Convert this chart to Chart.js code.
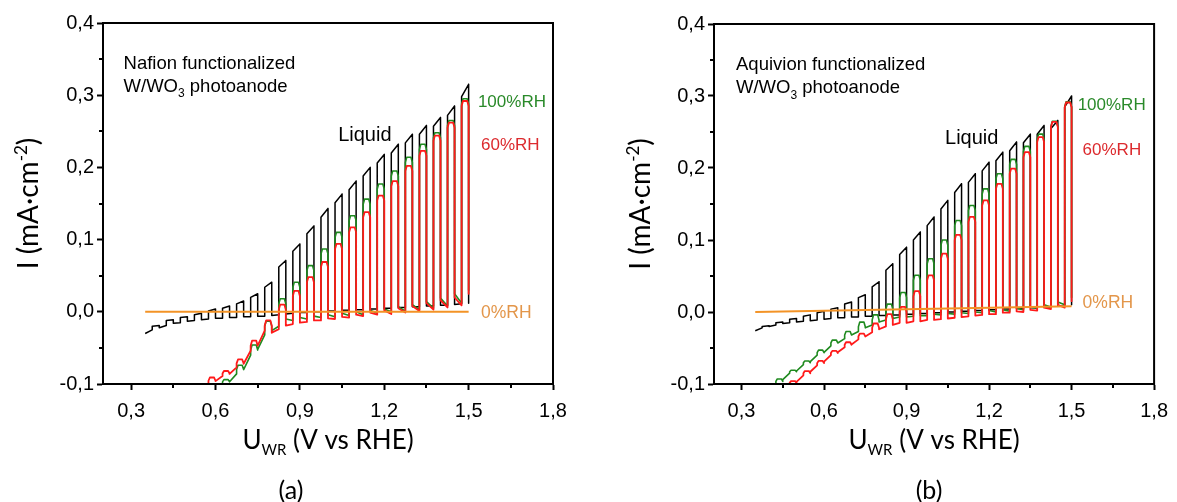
<!DOCTYPE html>
<html><head><meta charset="utf-8">
<script src="https://cdn.jsdelivr.net/npm/chart.js@4.4.1/dist/chart.umd.min.js"></script>
<style>
html,body{margin:0;padding:0;background:#fff;}
#wrap{position:relative;width:1177px;height:502px;overflow:hidden;background:#fff;}
canvas{position:absolute;top:0;}
#ca{left:0;} #cb{left:588px;}
</style></head><body>
<div id="wrap"><canvas id="ca" width="588" height="502"></canvas><canvas id="cb" width="589" height="502"></canvas></div>
<script>
// ---------- shared chopping grid (V vs RHE) ----------
const pulseOn  = [0.375,0.425,0.475,0.525,0.575,0.625,0.675,0.725,0.775,0.825,0.875,0.925,0.975,1.025,1.075,1.125,1.175,1.225,1.275,1.325,1.375,1.425,1.475];
const pulseOff = [0.400,0.450,0.500,0.550,0.600,0.650,0.700,0.750,0.800,0.850,0.900,0.950,1.000,1.050,1.100,1.150,1.200,1.250,1.300,1.350,1.400,1.450,1.500];
const xTicks = [0.3,0.6,0.9,1.2,1.5,1.8];
const xMinorTicks = [0.45,0.75,1.05,1.35,1.65];
const yTicks = [-0.1,0.0,0.1,0.2,0.3,0.4];
const yMinorTicks = [-0.05,0.05,0.15,0.25,0.35];

// ---------- panel (a) Nafion ----------
const aLiquidStart = [0.35,-0.030];
const aLiquidDark = [-0.025,-0.019,-0.015,-0.012,-0.010,-0.009,-0.008,-0.007,-0.006,-0.004,-0.002,-0.001,0.000,0.001,0.002,0.003,0.004,0.005,0.006,0.007,0.008,0.009,0.011];
const aLiquidRise = [-0.020,-0.012,-0.008,-0.004,0.001,0.005,0.011,0.020,0.034,0.062,0.084,0.108,0.131,0.151,0.169,0.188,0.206,0.220,0.234,0.246,0.257,0.272,0.298];
const aLiquidPeak = [-0.019,-0.011,-0.007,-0.002,0.004,0.008,0.015,0.025,0.041,0.071,0.094,0.119,0.143,0.163,0.181,0.200,0.218,0.232,0.246,0.258,0.269,0.285,0.315];
const aLiquidTail = [-0.022,-0.016,-0.013,-0.011,-0.009,-0.008,-0.007,-0.006,-0.005,-0.003,-0.001,0.000,0.001,0.002,0.003,0.004,0.005,0.006,0.007,0.008,0.009,0.010,0.012];

const aRH100From = 5;
const aRH100Dark = [-0.100,-0.086,-0.060,-0.032,-0.020,-0.012,-0.010,-0.008,-0.007,-0.005,-0.004,-0.002,0.000,0.001,0.003,0.005,0.008,0.012];
const aRH100Top  = [-0.094,-0.074,-0.046,-0.013,0.018,0.041,0.064,0.087,0.110,0.133,0.156,0.177,0.195,0.214,0.232,0.248,0.265,0.295];
const aRH100Tail = [-0.097,-0.080,-0.052,-0.026,-0.010,-0.008,-0.006,-0.004,-0.002,0.000,0.002,0.004,0.007,0.010,0.014,0.019,0.025,0.030];

const aRH60From = 4;
const aRH60Dark = [-0.100,-0.089,-0.077,-0.054,-0.026,-0.024,-0.017,-0.014,-0.012,-0.010,-0.008,-0.006,-0.004,-0.003,-0.001,0.001,0.003,0.006,0.009];
const aRH60Top  = [-0.091,-0.082,-0.066,-0.040,-0.012,0.010,0.029,0.048,0.069,0.094,0.117,0.138,0.161,0.181,0.202,0.223,0.244,0.262,0.292];
const aRH60Tail = [-0.096,-0.086,-0.072,-0.047,-0.029,-0.019,-0.015,-0.012,-0.009,-0.007,-0.004,-0.001,0.002,0.005,0.008,0.012,0.016,0.020,0.025];

const aRH0V = [0.35,1.50];
const aRH0I = [0.000,0.000];

// ---------- panel (b) Aquivion ----------
const bLiquidStart = [0.35,-0.026];
const bLiquidDark = [-0.022,-0.018,-0.015,-0.013,-0.011,-0.009,-0.008,-0.007,-0.006,-0.005,-0.004,-0.003,-0.002,-0.001,0.000,0.001,0.002,0.003,0.004,0.005,0.006,0.007,0.008];
const bLiquidRise = [-0.020,-0.015,-0.010,-0.006,-0.001,0.004,0.011,0.020,0.035,0.058,0.080,0.100,0.120,0.143,0.166,0.180,0.196,0.210,0.224,0.235,0.247,0.255,0.285];
const bLiquidPeak = [-0.019,-0.014,-0.009,-0.004,0.001,0.006,0.014,0.024,0.042,0.067,0.090,0.111,0.132,0.155,0.178,0.192,0.208,0.222,0.236,0.247,0.259,0.266,0.300];
const bLiquidTail = [-0.020,-0.016,-0.014,-0.012,-0.010,-0.008,-0.007,-0.006,-0.005,-0.004,-0.003,-0.002,-0.001,0.000,0.001,0.002,0.003,0.004,0.005,0.006,0.007,0.008,0.010];

const bRH100From = 1;
const bRH100Dark = [-0.100,-0.085,-0.073,-0.060,-0.047,-0.037,-0.027,-0.018,-0.011,-0.007,-0.006,-0.005,-0.004,-0.003,-0.002,-0.001,0.000,0.001,0.003,0.005,0.007,0.010];
const bRH100Top  = [-0.093,-0.081,-0.068,-0.053,-0.039,-0.027,-0.014,-0.004,0.011,0.027,0.051,0.074,0.100,0.127,0.148,0.171,0.192,0.212,0.230,0.247,0.265,0.292];
const bRH100Tail = [-0.094,-0.082,-0.069,-0.056,-0.043,-0.032,-0.022,-0.014,-0.009,-0.007,-0.005,-0.003,-0.002,-0.001,0.000,0.002,0.003,0.005,0.007,0.010,0.014,0.020];

const bRH60From = 1;
const bRH60Dark = [-0.112,-0.101,-0.088,-0.074,-0.060,-0.049,-0.038,-0.028,-0.020,-0.015,-0.013,-0.011,-0.010,-0.008,-0.006,-0.004,-0.003,-0.001,0.000,0.002,0.004,0.006];
const bRH60Top  = [-0.108,-0.096,-0.082,-0.068,-0.054,-0.042,-0.030,-0.016,-0.003,0.007,0.029,0.051,0.081,0.107,0.132,0.155,0.178,0.199,0.222,0.243,0.264,0.291];
const bRH60Tail = [-0.109,-0.097,-0.083,-0.069,-0.056,-0.045,-0.034,-0.024,-0.018,-0.015,-0.013,-0.011,-0.009,-0.007,-0.005,-0.003,-0.001,0.001,0.003,0.006,0.010,0.015];

const bRH0V = [0.35,1.50];
const bRH0I = [0.000,0.008];

// ---------- builders ----------
function liquidPoints(start, dark, rise, peak, tail){
  const pts = [{x:start[0], y:start[1]}];
  for (let k=0;k<dark.length;k++){
    pts.push({x:pulseOn[k], y:dark[k]});
    pts.push({x:pulseOn[k], y:rise[k]});
    pts.push({x:pulseOff[k], y:peak[k]});
    pts.push({x:pulseOff[k], y:tail[k]});
  }
  return pts;
}
function humidPoints(from, dark, top, tail){
  const pts = [];
  for (let i=0;i<dark.length;i++){
    const k = from+i, on = pulseOn[k], off = pulseOff[k];
    const r = Math.min(0.007, Math.max(0,(top[i]-dark[i])*0.5));
    pts.push({x:on, y:dark[i]});
    pts.push({x:on, y:top[i]-r});
    pts.push({x:on+0.005, y:top[i]});
    pts.push({x:off-0.005, y:top[i]});
    pts.push({x:off, y:top[i]-r});
    pts.push({x:off, y:tail[i]});
  }
  return pts;
}
function flatPoints(v, i){ return v.map((x,j)=>({x:x, y:i[j]})); }

const FT = '"Liberation Sans", Arial, sans-serif';
const FTITLE = 'Lato, "Open Sans", sans-serif';
const C_BLACK='#000000', C_GREEN='#1f8a1f', C_RED='#ff1a1a', C_ORANGE='#f39326';
const fmt = v => { const s = (Math.round(v*10)/10).toFixed(1).replace('.',','); return s==='-0,0'?'0,0':s; };

function drawRich(ctx, parts, x, y, align, rot){
  ctx.save(); ctx.translate(x,y); if(rot) ctx.rotate(rot);
  let w=0; const ws=[];
  for(const p of parts){ ctx.font = p.s+'px '+p.f; const m = ctx.measureText(p.t).width; ws.push(m); w+=m; }
  let cx = align==='center' ? -w/2 : 0;
  ctx.textBaseline='alphabetic'; ctx.textAlign='left';
  parts.forEach((p,i)=>{ ctx.font=p.s+'px '+p.f; ctx.fillStyle=p.c||'#000'; ctx.fillText(p.t,cx,p.dy||0); cx+=ws[i]; });
  ctx.restore();
}

function makePanel(id, pad, sets, notes, deco){
  const decoPlugin = {
    id:'deco'+id,
    afterDraw(chart){
      const ctx = chart.ctx, a = chart.chartArea, xs = chart.scales.x, ys = chart.scales.y;
      ctx.save();
      ctx.strokeStyle='#000'; ctx.lineWidth=2;
      ctx.strokeRect(a.left, a.top, a.right-a.left, a.bottom-a.top);
      ctx.beginPath();
      xMinorTicks.forEach(v=>{ const px=Math.round(xs.getPixelForValue(v)); ctx.moveTo(px,a.bottom); ctx.lineTo(px,a.bottom+4); });
      yMinorTicks.forEach(v=>{ const py=Math.round(ys.getPixelForValue(v)); ctx.moveTo(a.left,py); ctx.lineTo(a.left-4,py); });
      ctx.stroke();
      // annotations anchored in data space
      notes.forEach(n=>{
        const px = xs.getPixelForValue(n.v), py = ys.getPixelForValue(n.i) + n.s*0.36;
        drawRich(ctx, n.parts.map(p=>({t:p[0], s:n.s*(p[1]||1), dy:(p[2]||0)*n.s, f:FT, c:n.c})), px, py, 'left');
      });
      // axis titles
      const midY = (a.top+a.bottom)/2, midX = (a.left+a.right)/2;
      drawRich(ctx, [
        {t:'I (mA·cm', s:28, f:FTITLE},
        {t:'-2', s:17, dy:-11, f:FTITLE},
        {t:')', s:28, f:FTITLE}], deco.yTitleX, midY, 'center', -Math.PI/2);
      drawRich(ctx, [
        {t:'U', s:26, f:FTITLE},
        {t:'WR', s:15, dy:6, f:FTITLE},
        {t:' (V vs RHE)', s:26, f:FTITLE}], midX, deco.xTitleY, 'center');
      drawRich(ctx, [{t:deco.tag, s:25, f:FTITLE}], deco.tagX, deco.tagY, 'center');
      ctx.restore();
    }
  };
  return new Chart(document.getElementById(id), {
    type:'line',
    data:{datasets:sets},
    options:{
      responsive:false, animation:false, devicePixelRatio:1,
      layout:{padding:pad},
      plugins:{legend:{display:false}, tooltip:{enabled:false}},
      elements:{point:{radius:0}, line:{tension:0, borderJoinStyle:'round'}},
      scales:{
        x:{type:'linear', min:0.2, max:1.8,
           afterBuildTicks:s=>{ s.ticks = xTicks.map(v=>({value:v})); },
           afterFit:s=>{ s.height = 60; },
           ticks:{callback:v=>fmt(v), font:{family:FT, size:20}, color:'#000', padding:9, maxRotation:0, autoSkip:false},
           grid:{display:true, drawOnChartArea:false, drawTicks:true, tickLength:6, tickWidth:2, tickColor:'#000'},
           border:{display:true, color:'#000', width:2}},
        y:{type:'linear', min:-0.1, max:0.4,
           afterBuildTicks:s=>{ s.ticks = yTicks.map(v=>({value:v})); },
           afterFit:s=>{ s.width = 60; },
           ticks:{callback:v=>fmt(v), font:{family:FT, size:20}, color:'#000', padding:3, autoSkip:false},
           grid:{display:true, drawOnChartArea:false, drawTicks:true, tickLength:6, tickWidth:2, tickColor:'#000'},
           border:{display:true, color:'#000', width:2}}
      }
    },
    plugins:[decoPlugin]
  });
}

function sets(rh0, rh60, rh100, liquid){
  return [
    {label:'0%RH', data:rh0, borderColor:C_ORANGE, borderWidth:2, fill:false},
    {label:'60%RH', data:rh60, borderColor:C_RED, borderWidth:1.8, fill:false},
    {label:'100%RH', data:rh100, borderColor:C_GREEN, borderWidth:1.6, fill:false},
    {label:'Liquid', data:liquid, borderColor:C_BLACK, borderWidth:1.5, fill:false}
  ];
}

makePanel('ca', {left:43, right:35, top:23, bottom:58},
  sets(flatPoints(aRH0V,aRH0I), humidPoints(aRH60From,aRH60Dark,aRH60Top,aRH60Tail),
       humidPoints(aRH100From,aRH100Dark,aRH100Top,aRH100Tail),
       liquidPoints(aLiquidStart,aLiquidDark,aLiquidRise,aLiquidPeak,aLiquidTail)),
  [
    {v:0.273, i:0.345, s:18.5, c:'#000', parts:[['Nafion functionalized']]},
    {v:0.273, i:0.314, s:18.5, c:'#000', parts:[['W/WO'],['3',0.65,0.3],[' photoanode']]},
    {v:1.036, i:0.247, s:20, c:'#000', parts:[['Liquid']]},
    {v:1.533, i:0.292, s:17, c:'#2a8a2a', parts:[['100%RH']]},
    {v:1.544, i:0.233, s:17, c:'#dc2a2e', parts:[['60%RH']]},
    {v:1.544, i:0.000, s:17.5, c:'#e3964a', parts:[['0%RH']]}
  ],
  {yTitleX:38, xTitleY:449, tag:'(a)', tagX:291, tagY:499});

makePanel('cb', {left:66, right:16, top:24, bottom:58},
  sets(flatPoints(bRH0V,bRH0I), humidPoints(bRH60From,bRH60Dark,bRH60Top,bRH60Tail),
       humidPoints(bRH100From,bRH100Dark,bRH100Top,bRH100Tail),
       liquidPoints(bLiquidStart,bLiquidDark,bLiquidRise,bLiquidPeak,bLiquidTail)),
  [
    {v:0.280, i:0.346, s:18.5, c:'#000', parts:[['Aquivion functionalized']]},
    {v:0.280, i:0.313, s:18.5, c:'#000', parts:[['W/WO'],['3',0.65,0.3],[' photoanode']]},
    {v:1.040, i:0.244, s:20, c:'#000', parts:[['Liquid']]},
    {v:1.522, i:0.289, s:17, c:'#2a8a2a', parts:[['100%RH']]},
    {v:1.540, i:0.227, s:17, c:'#dc2a2e', parts:[['60%RH']]},
    {v:1.540, i:0.015, s:17.5, c:'#e3964a', parts:[['0%RH']]}
  ],
  {yTitleX:62, xTitleY:449, tag:'(b)', tagX:341, tagY:499});
</script></body></html>
